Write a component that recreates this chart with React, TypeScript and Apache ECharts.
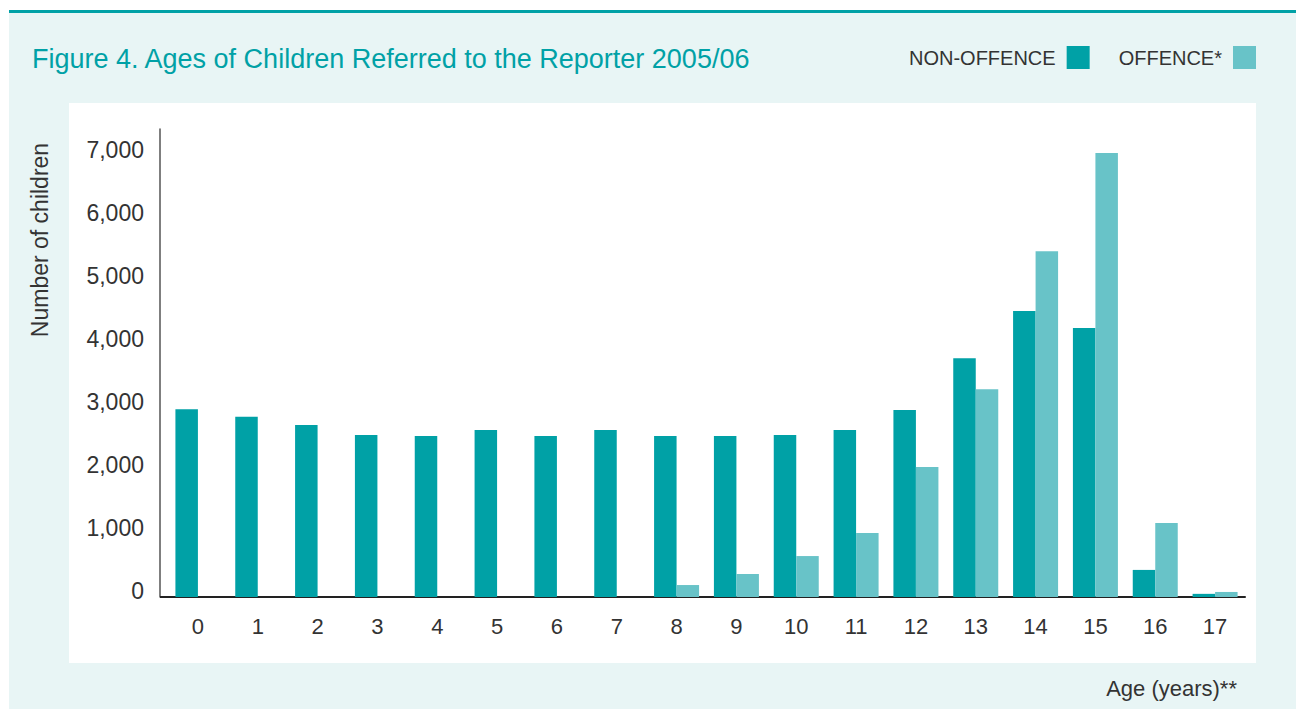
import React, { useEffect, useRef } from "react";
import * as echarts from "echarts";

const ages = ["0", "1", "2", "3", "4", "5", "6", "7", "8", "9", "10", "11", "12", "13", "14", "15", "16", "17"];
const nonOffence = [2980, 2860, 2730, 2570, 2555, 2650, 2555, 2650, 2555, 2555, 2570, 2650, 2970, 3790, 4540, 4270, 430, 50];
const offence = [0, 0, 0, 0, 0, 0, 0, 0, 190, 365, 650, 1015, 2065, 3300, 5490, 7050, 1175, 80];
const seriesNames = ["NON-OFFENCE", "OFFENCE*"];
const titleText = "Figure 4. Ages of Children Referred to the Reporter 2005/06";
const yAxisTitle = "Number of children";
const xAxisTitle = "Age (years)**";

const TEAL = "#00a1a6";
const LIGHT_TEAL = "#68c3c8";
const PANEL = "#e8f5f5";
const FONT = "'Liberation Sans', Arial, sans-serif";
const TEXT = "#333333";

export default function App() {
  const ref = useRef<HTMLDivElement>(null);
  useEffect(() => {
    if (!ref.current) return;
    const chart = echarts.init(ref.current, null, { renderer: "svg" });
    chart.setOption({
      animation: false,
      backgroundColor: "#ffffff",
      textStyle: { fontFamily: FONT },
      title: {
        text: titleText,
        left: 27,
        top: 40,
        textStyle: { color: TEAL, fontSize: 27, fontWeight: "normal", fontFamily: FONT },
      },
      legend: {
        data: seriesNames,
        right: 35,
        top: 41,
        align: "right",
        icon: "rect",
        itemWidth: 23,
        itemHeight: 23,
        itemGap: 29,
        textStyle: { color: TEXT, fontSize: 20, fontFamily: FONT, padding: [0, 6, 0, 0] },
      },
      graphic: [
        { type: "rect", z: -10, shape: { x: 9, y: 13, width: 1287, height: 696 }, style: { fill: PANEL } },
        { type: "rect", z: -10, shape: { x: 9, y: 10, width: 1287, height: 3 }, style: { fill: TEAL } },
        { type: "rect", z: -9, shape: { x: 69, y: 103, width: 1187, height: 560 }, style: { fill: "#ffffff" } },
        { type: "line", z: 5, shape: { x1: 160, y1: 597, x2: 168, y2: 597 }, style: { stroke: "#222222", lineWidth: 2 } },
        {
          type: "text",
          x: 40,
          y: 240,
          rotation: Math.PI / 2,
          style: { text: yAxisTitle, fill: TEXT, fontSize: 23, fontFamily: FONT, align: "center", verticalAlign: "middle" },
        },
        {
          type: "text",
          x: 1237,
          y: 688,
          style: { text: xAxisTitle, fill: TEXT, fontSize: 22, fontFamily: FONT, align: "right", verticalAlign: "middle" },
        },
      ],
      grid: { left: 168, right: 51, top: 129, bottom: 112, containLabel: false },
      xAxis: {
        type: "category",
        data: ages,
        axisLine: { show: true, lineStyle: { color: "#222222", width: 2 } },
        axisTick: { show: false },
        splitLine: { show: false },
        axisLabel: { color: TEXT, fontSize: 22, fontFamily: FONT, margin: 18 },
      },
      yAxis: {
        type: "value",
        min: 0,
        max: 7430,
        interval: 1000,
        offset: 8,
        axisLine: { show: true, lineStyle: { color: "#555555", width: 1.5 } },
        axisTick: { show: false },
        splitLine: { show: false },
        axisLabel: {
          color: TEXT,
          fontSize: 23,
          fontFamily: FONT,
          margin: 16,
          showMaxLabel: false,
          verticalAlign: "bottom",
          lineHeight: 12,
          formatter: (v: number) => v.toLocaleString("en-US"),
        },
      },
      series: [
        {
          name: seriesNames[0],
          type: "bar",
          data: nonOffence,
          barWidth: 22.5,
          barGap: "0%",
          itemStyle: { color: TEAL },
        },
        {
          name: seriesNames[1],
          type: "bar",
          data: offence,
          barWidth: 22.5,
          barGap: "0%",
          itemStyle: { color: LIGHT_TEAL },
        },
      ],
    });
    return () => chart.dispose();
  }, []);
  return <div ref={ref} style={{ position: "fixed", left: 0, top: 0, width: 1296, height: 709 }} />;
}
